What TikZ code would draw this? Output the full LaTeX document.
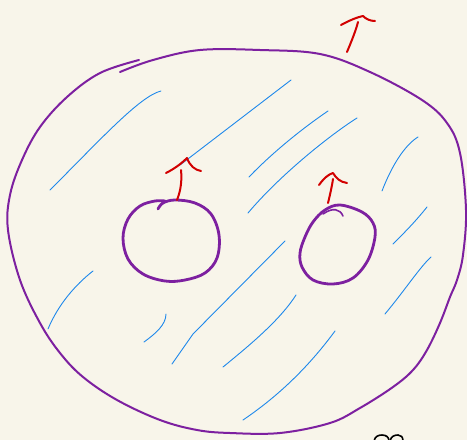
\documentclass[tikz,border=0pt]{standalone}
\begin{document}
\begin{tikzpicture}[x=1pt,y=-1pt,
  outline/.style={draw=purp,line width=2pt,line cap=round,line join=round},
  hole/.style={draw=purp,line width=2.8pt,line cap=round,line join=round},
  hatch/.style={draw=hblue,line width=0.9pt,line cap=round},
  redarrow/.style={draw=rred,line width=2pt,line cap=round,line join=round},
  ink/.style={draw=black,line width=1.6pt,line cap=round}]
\definecolor{bg}{RGB}{248,245,234}
\definecolor{purp}{RGB}{125,32,160}
\definecolor{hblue}{RGB}{30,136,235}
\definecolor{rred}{RGB}{210,0,0}
\fill[bg] (0,0) rectangle (467,440);
\useasboundingbox (0,0) rectangle (467,440);
\clip (0,0) rectangle (467,440);
% big outline
\draw[outline] plot[smooth,tension=0.6] coordinates {(120,72) (153,60) (200,50) (260,50) (320,54) (370,72) (422,100) (447,123) (460,153) (466,210) (463,255) (457,280) (450,297) (440,323) (427,350) (413,370) (393,387) (360,408) (330,423) (280,433) (230,433) (197,430) (160,420) (117,400) (83,377) (60,353) (40,323) (20,280) (8,230) (10,195) (22,160) (40,127) (67,97) (100,73) (139,60)};
% left hole
\draw[hole] plot[smooth,tension=0.6] coordinates {(158,209) (163,203) (175,200) (195,203) (211,214) (219,235) (217,258) (205,273) (185,280) (165,281) (143,274) (128,259) (123,238) (128,219) (140,206) (155,201) (165,201)};
% right hole
\draw[hole] plot[smooth cycle,tension=0.6] coordinates {(325,210) (340,205) (362,212) (373,223) (375,237) (368,260) (353,278) (333,284) (313,280) (302,267) (300,253) (305,237) (313,222)};
\draw[draw=purp,line width=1.6pt,line cap=round] (323,214) .. controls (333,207) and (340,209) .. (343,216);
% hatch lines
\draw[hatch] (50,190) .. controls (100,140) and (140,96) .. (161,91);
\draw[hatch] (291,80) -- (180,165);
\draw[hatch] (328,111) .. controls (300,130) and (270,155) .. (249,177);
\draw[hatch] (357,118) .. controls (330,135) and (280,175) .. (248,213);
\draw[hatch] (418,137) .. controls (405,145) and (392,165) .. (382,191);
\draw[hatch] (427,207) .. controls (415,222) and (405,232) .. (393,244);
\draw[hatch] (431,257) .. controls (420,267) and (405,290) .. (385,314);
\draw[hatch] (93,271) .. controls (75,285) and (58,305) .. (48,329);
\draw[hatch] (166,314) .. controls (166,325) and (155,334) .. (144,342);
\draw[hatch] (285,241) -- (193,334) -- (172,364);
\draw[hatch] (296,295) .. controls (280,320) and (250,345) .. (223,367);
\draw[hatch] (335,331) .. controls (310,365) and (280,395) .. (243,420);
% red arrows
\draw[redarrow] (347,52) .. controls (352,40) and (356,30) .. (358,22);
\draw[redarrow] (341,25) .. controls (350,20) and (358,17) .. (363,16) .. controls (366,19) and (370,21) .. (375,21);
\draw[redarrow] (177,200) .. controls (181,190) and (182,180) .. (181,170);
\draw[redarrow] (166,173) .. controls (176,168) and (183,162) .. (187,158) .. controls (190,166) and (195,170) .. (201,171);
\draw[redarrow] (328,203) .. controls (330,195) and (332,186) .. (333,179);
\draw[redarrow] (319,185) .. controls (324,178) and (329,174) .. (333,173) .. controls (336,178) and (340,182) .. (347,183);
% ink at bottom right
\draw[ink] (374,441) .. controls (375,436) and (379,435) .. (382,435) .. controls (386,435) and (389,437) .. (389,441);
\draw[ink] (390,441) .. controls (391,436) and (395,435) .. (398,435) .. controls (401,435) and (403,437) .. (403,441);
\end{tikzpicture}
\end{document}
